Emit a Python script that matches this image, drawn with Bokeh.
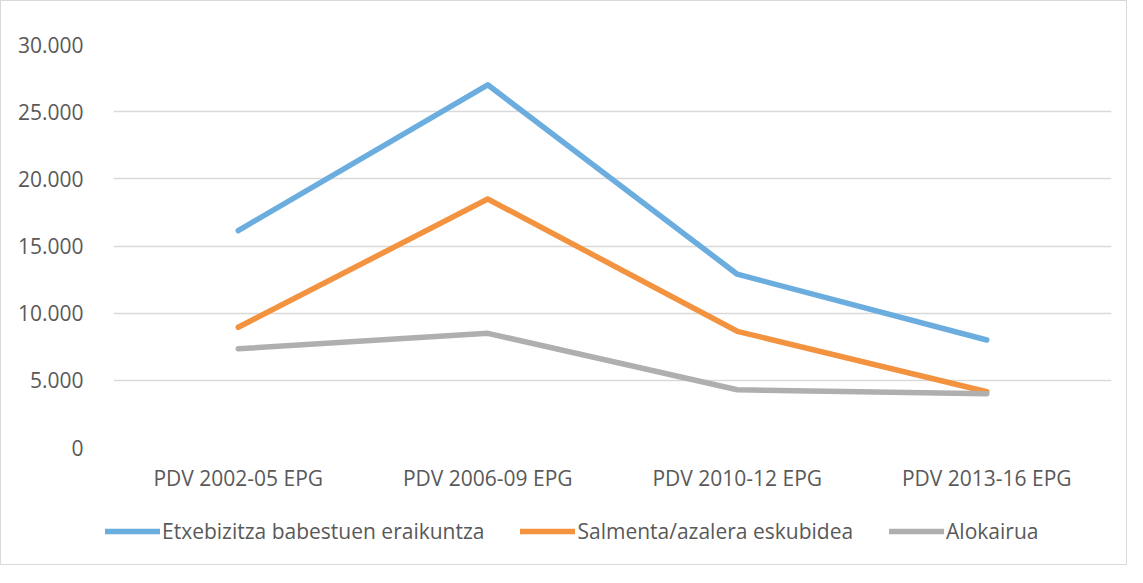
from bokeh.plotting import figure
from bokeh.models import FactorRange, Range1d, FixedTicker, Legend, LegendItem
from bokeh.layouts import column
from bokeh.embed import file_html
from bokeh.resources import INLINE

categories = ["PDV 2002-05 EPG", "PDV 2006-09 EPG", "PDV 2010-12 EPG", "PDV 2013-16 EPG"]
series_names = ["Etxebizitza babestuen eraikuntza", "Salmenta/azalera eskubidea", "Alokairua"]
eraikuntza = [16150, 27000, 12900, 8000]
salmenta = [8950, 18500, 8650, 4150]
alokairua = [7350, 8500, 4300, 4000]
y_ticks = [0, 5000, 10000, 15000, 20000, 25000, 30000]
y_tick_labels = ["0", "5.000", "10.000", "15.000", "20.000", "25.000", "30.000"]

colors = ["#6AADDE", "#F39340", "#AFAFAF"]
FONT = "Open Sans"
TXT = "#595959"
LW = 5.5

p = figure(width=1125, height=508, output_backend="svg", toolbar_location=None,
           x_range=FactorRange(*categories, range_padding=0), y_range=Range1d(0, 30000),
           min_border_left=112, min_border_right=15, min_border_top=43, min_border_bottom=62)
p.outline_line_color = None
p.background_fill_color = "white"

p.xgrid.grid_line_color = None
p.ygrid.grid_line_color = "#d9d9d9"
p.ygrid.grid_line_width = 1.5

p.yaxis.ticker = FixedTicker(ticks=y_ticks)
p.yaxis.major_label_overrides = {t: l for t, l in zip(y_ticks, y_tick_labels)}
for ax in (p.xaxis[0], p.yaxis[0]):
    ax.axis_line_color = None
    ax.major_tick_line_color = None
    ax.minor_tick_line_color = None
    ax.major_label_text_font = FONT
    ax.major_label_text_font_size = "21px"
    ax.major_label_text_color = TXT
p.yaxis.major_label_standoff = 24
p.xaxis.major_label_standoff = 10

for vals, c in zip([eraikuntza, salmenta, alokairua], colors):
    p.line(categories, vals, line_color=c, line_width=LW, line_cap="round", line_join="round")

# legend strip below the chart (its own small figure, frame not aligned with the chart)
lf = figure(width=1125, height=55, output_backend="svg", toolbar_location=None,
            x_range=Range1d(0, 1125), y_range=Range1d(0, 55),
            x_axis_type=None, y_axis_type=None,
            min_border_left=0, min_border_right=0, min_border_top=0, min_border_bottom=0)
lf.frame_align = False
lf.outline_line_color = None
lf.xgrid.grid_line_color = None
lf.ygrid.grid_line_color = None
# legend-only renderers placed outside the visible range
leg_renderers = [lf.line([-20, -10], [-20, -20], line_color=c, line_width=LW, line_cap="round")
                 for c in colors]

legend = Legend(items=[LegendItem(label=n, renderers=[r]) for n, r in zip(series_names, leg_renderers)],
                orientation="horizontal", location=(104, 19),
                glyph_width=55, glyph_height=22, label_height=22, label_standoff=2,
                spacing=36, padding=0, margin=0,
                label_text_font=FONT, label_text_font_size="21px", label_text_color=TXT,
                border_line_color=None, background_fill_alpha=0)
lf.add_layout(legend, "center")

layout = column(p, lf, spacing=0)
layout.styles = {"border": "1px solid #d9d9d9", "gap": "0px"}

open("out.html", "w").write(file_html(layout, INLINE))
